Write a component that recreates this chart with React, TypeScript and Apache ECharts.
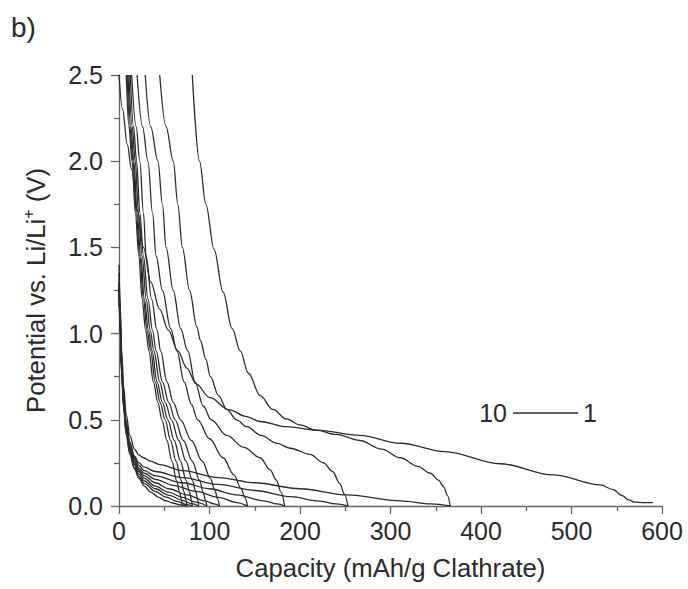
import React, { useEffect, useRef } from "react";
import * as echarts from "echarts";

// Capacity (mAh/g) vs potential (V) — curves descending from 2.5 V
const chargeCycle1: [number, number][] = [[81,2.5],[89,2.0],[96,1.75],[105,1.49],[115,1.24],[125,1.03],[134,0.9],[143,0.77],[156,0.64],[170,0.56],[185,0.505],[200,0.47],[218,0.44],[240,0.415],[266,0.38],[290,0.33],[311,0.28],[330,0.23],[344,0.19],[353,0.15],[359,0.11],[363,0.06],[366,0]];
const chargeCycle2: [number, number][] = [[45,2.5],[52,2.2],[60,2.0],[65,1.75],[70,1.5],[78,1.25],[86,1.04],[90,0.96],[96,0.85],[101,0.75],[110,0.64],[119,0.56],[130,0.5],[141,0.46],[157,0.41],[174,0.365],[189,0.335],[211,0.3],[226,0.25],[236,0.2],[244,0.13],[249,0.07],[253,0]];
const chargeCycle3: [number, number][] = [[29,2.5],[35,2.2],[43,2.0],[48,1.75],[52,1.5],[60,1.25],[68,1.03],[76,0.9],[84,0.72],[93,0.58],[102,0.5],[119,0.41],[138,0.34],[156,0.28],[167,0.21],[174,0.15],[179,0.08],[183,0]];
const chargeCycle4: [number, number][] = [[20,2.5],[26,2.2],[32,2.0],[37,1.7],[41,1.45],[48,1.25],[57,1.03],[64,0.9],[72,0.72],[80,0.59],[87,0.5],[100,0.39],[115,0.28],[127,0.18],[135,0.1],[139,0.05],[142,0]];
const chargeCycle5: [number, number][] = [[14,2.5],[19,2.2],[23,2.0],[27,1.7],[30,1.45],[36,1.2],[42,1.02],[46,0.9],[53,0.72],[60,0.6],[68,0.5],[80,0.38],[92,0.26],[101,0.16],[106,0.09],[109,0.04],[111,0]];
const chargeCycle6: [number, number][] = [[12.5,2.5],[16,2.2],[19.5,2.0],[23,1.7],[27,1.45],[32,1.2],[37,1.02],[41,0.9],[48,0.72],[55,0.6],[62,0.5],[71,0.38],[81,0.26],[89,0.15],[93,0.08],[95.5,0.035],[97,0]];
const chargeCycle7: [number, number][] = [[11,2.5],[14.5,2.2],[18,2.0],[21.5,1.7],[25.5,1.45],[30,1.2],[34.5,1.02],[38.5,0.9],[45,0.72],[51,0.6],[58,0.5],[66,0.38],[74,0.26],[81,0.15],[85,0.08],[87,0.035],[88,0]];
const chargeCycle8: [number, number][] = [[10,2.5],[13,2.2],[16.5,2.0],[20,1.7],[24,1.45],[28,1.2],[32.5,1.02],[36.5,0.9],[42,0.72],[48,0.6],[54,0.5],[61,0.38],[68,0.26],[74,0.15],[78,0.08],[80,0.035],[81,0]];
const chargeCycle9: [number, number][] = [[9,2.5],[12,2.2],[15.5,2.0],[19,1.7],[23,1.45],[27,1.2],[31,1.02],[35,0.9],[40,0.72],[45.5,0.6],[51,0.5],[57,0.38],[63,0.26],[68.5,0.15],[72,0.08],[74,0.035],[75,0]];
const chargeCycle10: [number, number][] = [[8,2.5],[11,2.2],[14.5,2.0],[18,1.7],[22,1.45],[25.5,1.2],[29.5,1.02],[33,0.9],[38,0.72],[43,0.6],[47.5,0.5],[53,0.38],[58.5,0.26],[63.5,0.15],[67,0.08],[69,0.035],[70,0]];

// Curves starting near the potential axis and sloping down to 0 V
const dischargeCycle1: [number, number][] = [[0,2.5],[4,2.3],[9,2.1],[14,1.95],[20,1.72],[27,1.5],[35,1.3],[45,1.14],[54.5,1.02],[65,0.9],[75,0.8],[85,0.71],[100,0.63],[122,0.557],[140,0.52],[156,0.49],[185,0.46],[218,0.44],[266,0.41],[311,0.364],[360,0.315],[421,0.245],[480,0.18],[532,0.122],[546,0.095],[556,0.06],[563,0.035],[570,0.022],[580,0.02],[590,0.02]];
const dischargeCycle2: [number, number][] = [[0,1.4],[1.5,1.15],[3,0.9],[5,0.7],[8,0.53],[12,0.41],[17,0.33],[22,0.295],[27,0.28],[35,0.26],[45,0.24],[70,0.205],[110,0.165],[150,0.135],[200,0.1],[252,0.064],[311,0.03],[345,0.012],[366,0]];
const dischargeCycle3: [number, number][] = [[0,1.35],[1.5,1.1],[3,0.86],[5,0.66],[8,0.49],[12,0.37],[17,0.29],[22,0.25],[28,0.225],[40,0.2],[70,0.165],[110,0.125],[150,0.09],[190,0.054],[220,0.03],[240,0.012],[253,0]];
const dischargeCycle4: [number, number][] = [[0,1.3],[1.5,1.05],[3,0.82],[5,0.63],[8,0.47],[12,0.36],[17,0.28],[22,0.235],[28,0.205],[40,0.175],[70,0.135],[100,0.1],[130,0.065],[160,0.03],[175,0.012],[183,0]];
const dischargeCycle5: [number, number][] = [[0,1.3],[1.5,1.05],[3,0.81],[5,0.62],[8,0.46],[12,0.35],[17,0.27],[22,0.22],[28,0.19],[40,0.155],[60,0.12],[85,0.085],[110,0.05],[130,0.02],[142,0]];
const dischargeCycle6: [number, number][] = [[0,1.28],[1.5,1.03],[3,0.8],[5,0.61],[8,0.45],[12,0.34],[17,0.26],[22,0.21],[28,0.175],[40,0.135],[55,0.1],[75,0.065],[95,0.03],[105,0.012],[111,0]];
const dischargeCycle7: [number, number][] = [[0,1.28],[1.5,1.02],[3,0.79],[5,0.6],[8,0.44],[12,0.33],[17,0.25],[22,0.2],[28,0.16],[40,0.115],[55,0.08],[70,0.05],[85,0.022],[97,0]];
const dischargeCycle8: [number, number][] = [[0,1.27],[1.5,1.01],[3,0.78],[5,0.59],[8,0.43],[12,0.32],[17,0.24],[22,0.185],[28,0.145],[40,0.1],[55,0.063],[70,0.033],[80,0.014],[88,0]];
const dischargeCycle9: [number, number][] = [[0,1.26],[1.5,1.0],[3,0.77],[5,0.58],[8,0.42],[12,0.31],[17,0.225],[22,0.17],[28,0.13],[40,0.085],[52,0.052],[64,0.027],[74,0.01],[81,0]];
const dischargeCycle10: [number, number][] = [[0,1.25],[1.5,0.99],[3,0.76],[5,0.57],[8,0.41],[12,0.3],[17,0.215],[22,0.16],[28,0.115],[35,0.08],[44,0.05],[52,0.03],[60,0.016],[68,0.006],[75,0]];

const xTicks = { min: 0, max: 600, interval: 100 };
const yTicks = { min: 0, max: 2.5, interval: 0.5 };
const panelLabel = "b)";
const xAxisTitle = "Capacity (mAh/g Clathrate)";
const cycleLabelStart = "10";
const cycleLabelEnd = "1";

const FONT = "'Liberation Sans', Arial, Helvetica, sans-serif";
const TEXT = "#2a2a2a";
const AXIS = "#666";
const LINE = "#2b2b2b";

export default function App() {
  const ref = useRef<HTMLDivElement>(null);
  useEffect(() => {
    if (!ref.current) return;
    const chart = echarts.init(ref.current, undefined, { renderer: "svg" });
    const all = [
      chargeCycle1, chargeCycle2, chargeCycle3, chargeCycle4, chargeCycle5,
      chargeCycle6, chargeCycle7, chargeCycle8, chargeCycle9, chargeCycle10,
      dischargeCycle1, dischargeCycle2, dischargeCycle3, dischargeCycle4, dischargeCycle5,
      dischargeCycle6, dischargeCycle7, dischargeCycle8, dischargeCycle9, dischargeCycle10,
    ];
    const series = all.map((data, i) => ({
      type: "line",
      name: "c" + i,
      data,
      showSymbol: false,
      smooth: 0.35,
      smoothMonotone: "x",
      silent: true,
      lineStyle: { color: LINE, width: 1.3 },
    }));
    chart.setOption({
      animation: false,
      backgroundColor: "#fff",
      grid: { left: 119, top: 75, width: 543, height: 431 },
      xAxis: {
        type: "value",
        min: xTicks.min,
        max: xTicks.max,
        interval: xTicks.interval,
        name: xAxisTitle,
        nameLocation: "middle",
        nameGap: 49,
        nameTextStyle: { fontFamily: FONT, fontSize: 25.7, color: TEXT },
        axisLine: { onZero: false, lineStyle: { color: AXIS, width: 1.3 } },
        axisTick: { show: true, inside: false, length: 8, lineStyle: { color: AXIS, width: 1.3 } },
        minorTick: { show: true, splitNumber: 2, length: 5, lineStyle: { color: AXIS, width: 1.3 } },
        splitLine: { show: false },
        axisLabel: { fontFamily: FONT, fontSize: 25, color: TEXT, margin: 12 },
      },
      yAxis: {
        type: "value",
        min: yTicks.min,
        max: yTicks.max,
        interval: yTicks.interval,
        name: "{a|Potential vs. Li/Li}{b|+}{a| (V)}",
        nameLocation: "middle",
        nameGap: 67,
        nameTextStyle: {
          fontFamily: FONT,
          fontSize: 25.7,
          color: TEXT,
          rich: {
            a: { fontFamily: FONT, fontSize: 25.7, color: TEXT, lineHeight: 32 },
            b: { fontFamily: FONT, fontSize: 16, color: TEXT, verticalAlign: "top", lineHeight: 32 },
          },
        },
        axisLine: { onZero: false, lineStyle: { color: AXIS, width: 1.3 } },
        axisTick: { show: true, inside: false, length: 8, lineStyle: { color: AXIS, width: 1.3 } },
        minorTick: { show: true, splitNumber: 2, length: 5, lineStyle: { color: AXIS, width: 1.3 } },
        splitLine: { show: false },
        axisLabel: {
          fontFamily: FONT,
          fontSize: 25,
          color: TEXT,
          margin: 16,
          formatter: (v: number) => v.toFixed(1),
        },
      },
      graphic: [
        { type: "text", left: 11, top: 13, style: { text: panelLabel, fontFamily: FONT, fontSize: 28, fill: TEXT } },
        { type: "text", x: 507, y: 413, style: { text: cycleLabelStart, fontFamily: FONT, fontSize: 25, fill: TEXT, align: "right", verticalAlign: "middle" } },
        { type: "line", shape: { x1: 513, y1: 413, x2: 578, y2: 413 }, style: { stroke: LINE, lineWidth: 1.3 } },
        { type: "text", x: 583, y: 413, style: { text: cycleLabelEnd, fontFamily: FONT, fontSize: 25, fill: TEXT, align: "left", verticalAlign: "middle" } },
      ],
      series,
    });
    return () => chart.dispose();
  }, []);
  return (
    <div
      ref={ref}
      style={{ position: "fixed", left: 0, top: 0, width: 688, height: 589, background: "#fff" }}
    />
  );
}
